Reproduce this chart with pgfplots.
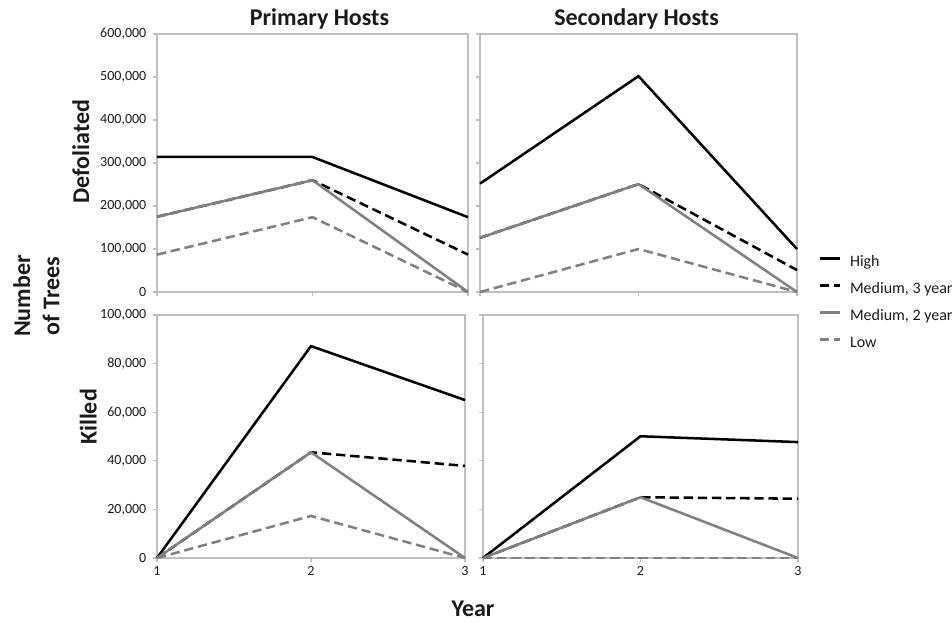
\documentclass[border=0pt]{standalone}
\usepackage{pgfplots}
\pgfplotsset{compat=1.18}
\usepackage{fontspec}
\setmainfont{Carlito}
\definecolor{axgray}{HTML}{BFBFBF}
\definecolor{sergray}{HTML}{808080}
\definecolor{txt}{HTML}{1A1A1A}
\pgfplotsset{
  panel/.style={
    scale only axis, clip=false,
    xmin=1, xmax=3, xtick={1,2,3}, xticklabels={1,2,3},
    scaled y ticks=false, scaled x ticks=false,
    axis line style={draw=axgray, line width=0.8pt},
    tick style={draw=axgray, line width=0.8pt},
    major tick length=3pt, tick align=outside,
    xtick pos=bottom, ytick pos=left,
    ticklabel style={font=\fontsize{10.5}{12}\selectfont, text=txt},
    yticklabel style={xshift=-1.5pt},
  },
  top/.style={ymin=0, ymax=600000, ytick={0,100000,200000,300000,400000,500000,600000},
    yticklabels={0,{100,000},{200,000},{300,000},{400,000},{500,000},{600,000}}, xticklabels={}},
  bot/.style={ymin=0, ymax=100000, ytick={0,20000,40000,60000,80000,100000},
    yticklabels={0,{20,000},{40,000},{60,000},{80,000},{100,000}}},
  noy/.style={yticklabels={}},
  high/.style={black, line width=1.9pt},
  medthree/.style={black, line width=1.9pt, dash pattern=on 7pt off 3.6pt},
  medtwo/.style={sergray, line width=1.9pt},
  low/.style={sergray, line width=1.9pt, dash pattern=on 7pt off 3.6pt},
}
\begin{document}
\begin{tikzpicture}
\path[use as bounding box] (0,0) rectangle (714pt,466.5pt);
% Primary Defoliated
\begin{axis}[panel, top, at={(117.75pt,247.5pt)}, anchor=south west, width=233.25pt, height=193.5pt]
\addplot[high] coordinates {(1,314000) (2,314000) (3,174000)};
\addplot[medthree] coordinates {(1,175000) (2,260000) (3,87000)};
\addplot[medtwo] coordinates {(1,175000) (2,260000) (3,0)};
\addplot[low] coordinates {(1,87000) (2,174000) (3,0)};
\end{axis}
% Secondary Defoliated
\begin{axis}[panel, top, noy, at={(360pt,247.5pt)}, anchor=south west, width=237.75pt, height=193.5pt,
  legend style={at={(1.067,0.143)}, anchor=north west, draw=none, fill=none,
    font=\fontsize{12}{14}\selectfont, text=txt, inner sep=0pt,
    nodes={inner sep=0pt, text height=8.5pt, text depth=2.5pt},
    row sep=9.3pt, column sep=6.75pt},
  legend cell align=left,
  legend image code/.code={\draw[#1] (0pt,3.2pt) -- (15pt,3.2pt);}]
\addplot[high] coordinates {(1,252000) (2,502000) (3,100000)};
\addplot[medthree] coordinates {(1,126000) (2,251000) (3,51000)};
\addplot[medtwo] coordinates {(1,126000) (2,251000) (3,0)};
\addplot[low] coordinates {(1,0) (2,100000) (3,0)};
\legend{High, {Medium, 3 year}, {Medium, 2 year}, Low}
\end{axis}
% Primary Killed
\begin{axis}[panel, bot, at={(117.75pt,48pt)}, anchor=south west, width=231pt, height=182.25pt]
\addplot[high] coordinates {(1,0) (2,87200) (3,65000)};
\addplot[medthree] coordinates {(1,0) (2,43500) (3,37900)};
\addplot[medtwo] coordinates {(1,0) (2,43500) (3,0)};
\addplot[low] coordinates {(1,0) (2,17300) (3,0)};
\end{axis}
% Secondary Killed
\begin{axis}[panel, bot, noy, at={(362.25pt,48pt)}, anchor=south west, width=236.25pt, height=182.25pt]
\addplot[high] coordinates {(1,0) (2,50100) (3,47700)};
\addplot[medthree] coordinates {(1,0) (2,25000) (3,24400)};
\addplot[medtwo] coordinates {(1,0) (2,25000) (3,0)};
\addplot[low] coordinates {(1,0) (2,0) (3,0)};
\end{axis}
\tikzset{lab/.style={font=\bfseries\fontsize{18}{22}\selectfont, text=txt, inner sep=0pt}}
\node[lab, anchor=base] at (239.6pt,447pt) {Primary Hosts};
\node[lab, anchor=base] at (477.4pt,447pt) {Secondary Hosts};
\node[lab, anchor=base, rotate=90] at (66.75pt,352.9pt) {Defoliated};
\node[lab, anchor=base, rotate=90] at (72.5pt,153.75pt) {Killed};
\node[lab, anchor=base, rotate=90] at (22.5pt,244.5pt) {Number};
\node[lab, anchor=base, rotate=90] at (44.6pt,244.5pt) {of Trees};
\node[lab, anchor=base] at (354.75pt,4.5pt) {Year};
\end{tikzpicture}
\end{document}
